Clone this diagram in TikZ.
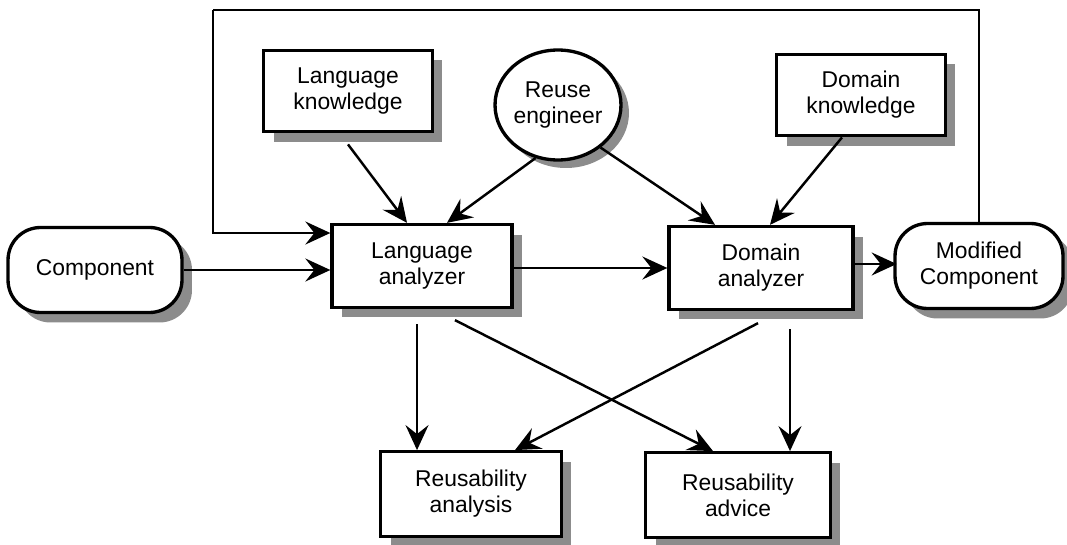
\documentclass[tikz,border=0pt]{standalone}
\usepackage{fontspec}
\setmainfont{Liberation Sans}
\usetikzlibrary{arrows.meta,shapes.geometric,shadows}

\begin{document}
\begin{tikzpicture}[
    x=0.02cm, y=-0.02cm,
    every node/.style={font=\fontsize{13}{14.8}\selectfont, align=center},
    flow/.style={-{Stealth[length=0.5cm, width=0.46cm, inset=0.18cm]}, line width=1.4pt},
    loopline/.style={line width=1.4pt},
    shade/.style={drop shadow={shadow xshift=0.2cm, shadow yshift=-0.2cm, fill=black!45, opacity=1}},
    infobox/.style={draw, line width=1.9pt, fill=white, shade, minimum width=3.38cm, minimum height=1.63cm},
    toolbox/.style={draw, line width=1.9pt, fill=white, shade, minimum width=3.6cm, minimum height=1.66cm},
    outbox/.style={draw, line width=1.9pt, fill=white, shade, minimum width=3.66cm, minimum height=1.69cm},
    itembox/.style={draw, line width=1.9pt, fill=white, shade, rounded corners=0.65cm, minimum width=3.4cm, minimum height=1.7cm},
    actor/.style={draw, ellipse, line width=1.9pt, fill=white, inner sep=0pt, minimum width=2.52cm, minimum height=2.2cm,
        drop shadow={shadow xshift=0.16cm, shadow yshift=-0.16cm, fill=black!45, opacity=1}}
]
\useasboundingbox (0,0) rectangle (1067,544);

\node[infobox] (langknow) at (348,91) {Language\\knowledge};
\node[actor] (reuse) at (558,105) {Reuse\\engineer};
\node[infobox] (domknow) at (861,95) {Domain\\knowledge};

\node[itembox, minimum width=3.48cm] (comp) at (95,270) {Component};
\node[toolbox] (langan) at (422,266) {Language\\analyzer};
\node[toolbox, minimum width=3.68cm] (domain) at (761,268) {Domain\\analyzer};
\node[itembox, minimum width=3.36cm] (modcomp) at (979,266) {Modified\\Component};

\node[outbox, minimum width=3.62cm] (reana) at (471,494) {Reusability\\analysis};
\node[outbox, minimum width=3.7cm] (readv) at (738,495) {Reusability\\advice};

% knowledge and engineer into the analyzers
\draw[flow] ([yshift=-0.22cm]langknow.south) -- ([xshift=-0.3cm]langan.north);
\draw[flow] (reuse.247) -- ([xshift=0.5cm]langan.north);
\draw[flow] (reuse.-45) -- ([xshift=-0.92cm]domain.north);
\draw[flow] ([xshift=-0.38cm]domknow.south) -- ([xshift=0.18cm]domain.north);

% main chain
\draw[flow] (comp.east) -- (comp.east -| langan.west);
\draw[flow] (langan.east |- domain.west) -- (domain.west);
\draw[flow] (domain.east) ++(0,-4) -- ++(42,0);

% feedback loop
\coordinate (loopL) at (213,10);
\draw[loopline] (modcomp.north) |- (loopL);
\draw[flow] (loopL) |- ([yshift=0.66cm]langan.west);

% results
\coordinate (lgdown) at ([xshift=-1.08cm]reana.north);
\coordinate (dmdown) at ([xshift=1.04cm]readv.north);
\draw[flow] (lgdown |- langan.south) ++(0,15) -- (lgdown);
\draw[flow] ([xshift=0.66cm, yshift=-0.22cm]langan.south) -- ([xshift=-0.5cm]readv.north);
\draw[flow] ([xshift=-0.06cm, yshift=-0.24cm]domain.south) -- ([xshift=0.88cm]reana.north);
\draw[flow] (dmdown |- domain.south) ++(0,18) -- (dmdown);
\end{tikzpicture}
\end{document}
